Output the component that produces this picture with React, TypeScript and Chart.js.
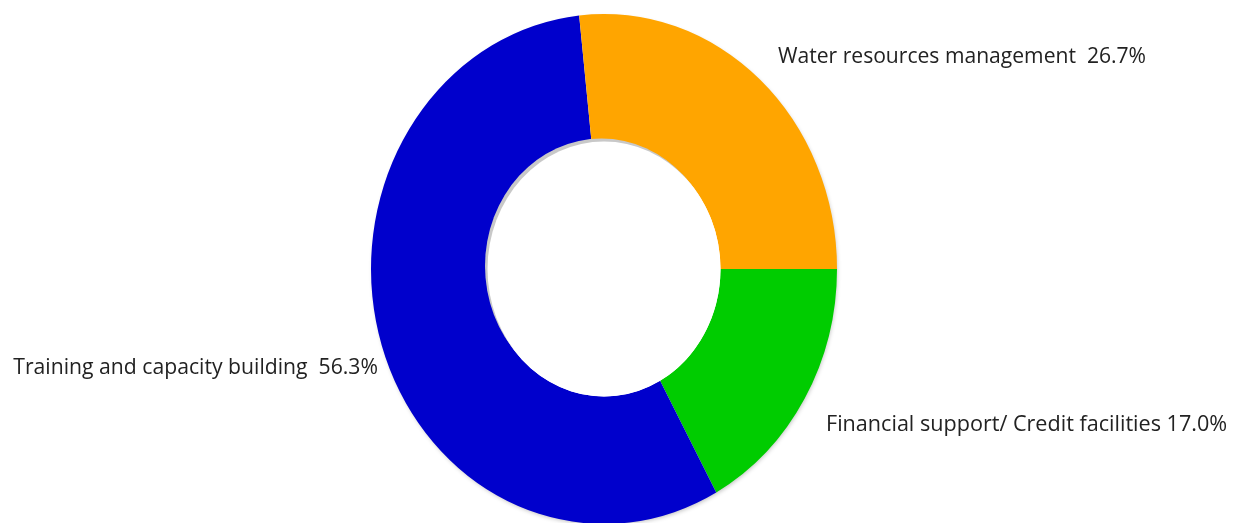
import React, { useEffect, useRef } from "react";
import { Chart, registerables } from "chart.js";

Chart.register(...registerables);

const categories = [
  "Financial support/ Credit facilities",
  "Training and capacity building",
  "Water resources management",
];
const values = [17.0, 56.3, 26.7];
const labelSeparators = [" ", "  ", "  "];
const colors = ["#00CC00", "#0000CC", "#FFA500"];

// label anchor positions (layout only)
const LABEL_POS = [
  { x: 826, y: 425, align: "left" as CanvasTextAlign, size: 21.6 },
  { x: 378, y: 368, align: "right" as CanvasTextAlign, size: 21.2 },
  { x: 778, y: 57, align: "left" as CanvasTextAlign, size: 21.1 },
];
const SCALE_Y = 255 / 233;

const ellipsePlugin = {
  id: "ellipseDonut",
  beforeDatasetsDraw(chart: any) {
    const ctx = chart.ctx as CanvasRenderingContext2D;
    const arc = chart.getDatasetMeta(0).data[0] as any;
    const cx = arc.x, cy = arc.y, R = arc.outerRadius;
    ctx.save();
    // faint outer shadow
    ctx.save();
    ctx.shadowColor = "rgba(0,0,0,0.25)";
    ctx.shadowBlur = 4;
    ctx.shadowOffsetX = 1;
    ctx.shadowOffsetY = 2;
    ctx.fillStyle = "#ffffff";
    ctx.beginPath();
    ctx.ellipse(cx, cy, R - 1, R * SCALE_Y - 1, 0, 0, Math.PI * 2);
    ctx.fill();
    ctx.restore();
    ctx.translate(cx, cy);
    ctx.scale(1, SCALE_Y);
    ctx.translate(-cx, -cy);
  },
  afterDatasetsDraw(chart: any) {
    const ctx = chart.ctx as CanvasRenderingContext2D;
    ctx.restore();
    const meta = chart.getDatasetMeta(0);
    const arc = meta.data[0] as any;
    const cx = arc.x, cy = arc.y, r = arc.innerRadius;
    // inner shadow on the hole
    ctx.save();
    ctx.fillStyle = "#c8c8c8";
    ctx.beginPath();
    ctx.ellipse(cx - 2.5, cy - 3, r, r * SCALE_Y, 0, 0, Math.PI * 2);
    ctx.fill();
    ctx.fillStyle = "#ffffff";
    ctx.beginPath();
    ctx.ellipse(cx, cy, r, r * SCALE_Y, 0, 0, Math.PI * 2);
    ctx.fill();
    ctx.restore();
    // labels
    ctx.save();
    ctx.fillStyle = "#222222";
    ctx.textBaseline = "middle";
    categories.forEach((c, i) => {
      const p = LABEL_POS[i];
      ctx.font = `${p.size}px "Open Sans", sans-serif`;
      ctx.textAlign = p.align;
      ctx.fillText(`${c}${labelSeparators[i]}${values[i].toFixed(1)}%`, p.x, p.y);
    });
    ctx.restore();
  },
};

export default function App() {
  const ref = useRef<HTMLCanvasElement>(null);
  useEffect(() => {
    document.body.style.margin = "0";
    const chart = new Chart(ref.current!, {
      type: "doughnut",
      data: {
        labels: categories,
        datasets: [
          {
            data: values,
            backgroundColor: colors,
            borderWidth: 0,
            hoverOffset: 0,
          },
        ],
      },
      options: {
        animation: false,
        responsive: false,
        rotation: 90,
        cutout: "50%",
        layout: { padding: { top: 36, bottom: 21, left: 0, right: 25 } },
        plugins: {
          legend: { display: false },
          tooltip: { enabled: false },
        },
      },
      plugins: [ellipsePlugin],
    });
    return () => chart.destroy();
  }, []);
  return (
    <div style={{ position: "absolute", left: 0, top: 0, width: 1233, height: 523 }}>
      <canvas ref={ref} width={1233} height={523} />
    </div>
  );
}
